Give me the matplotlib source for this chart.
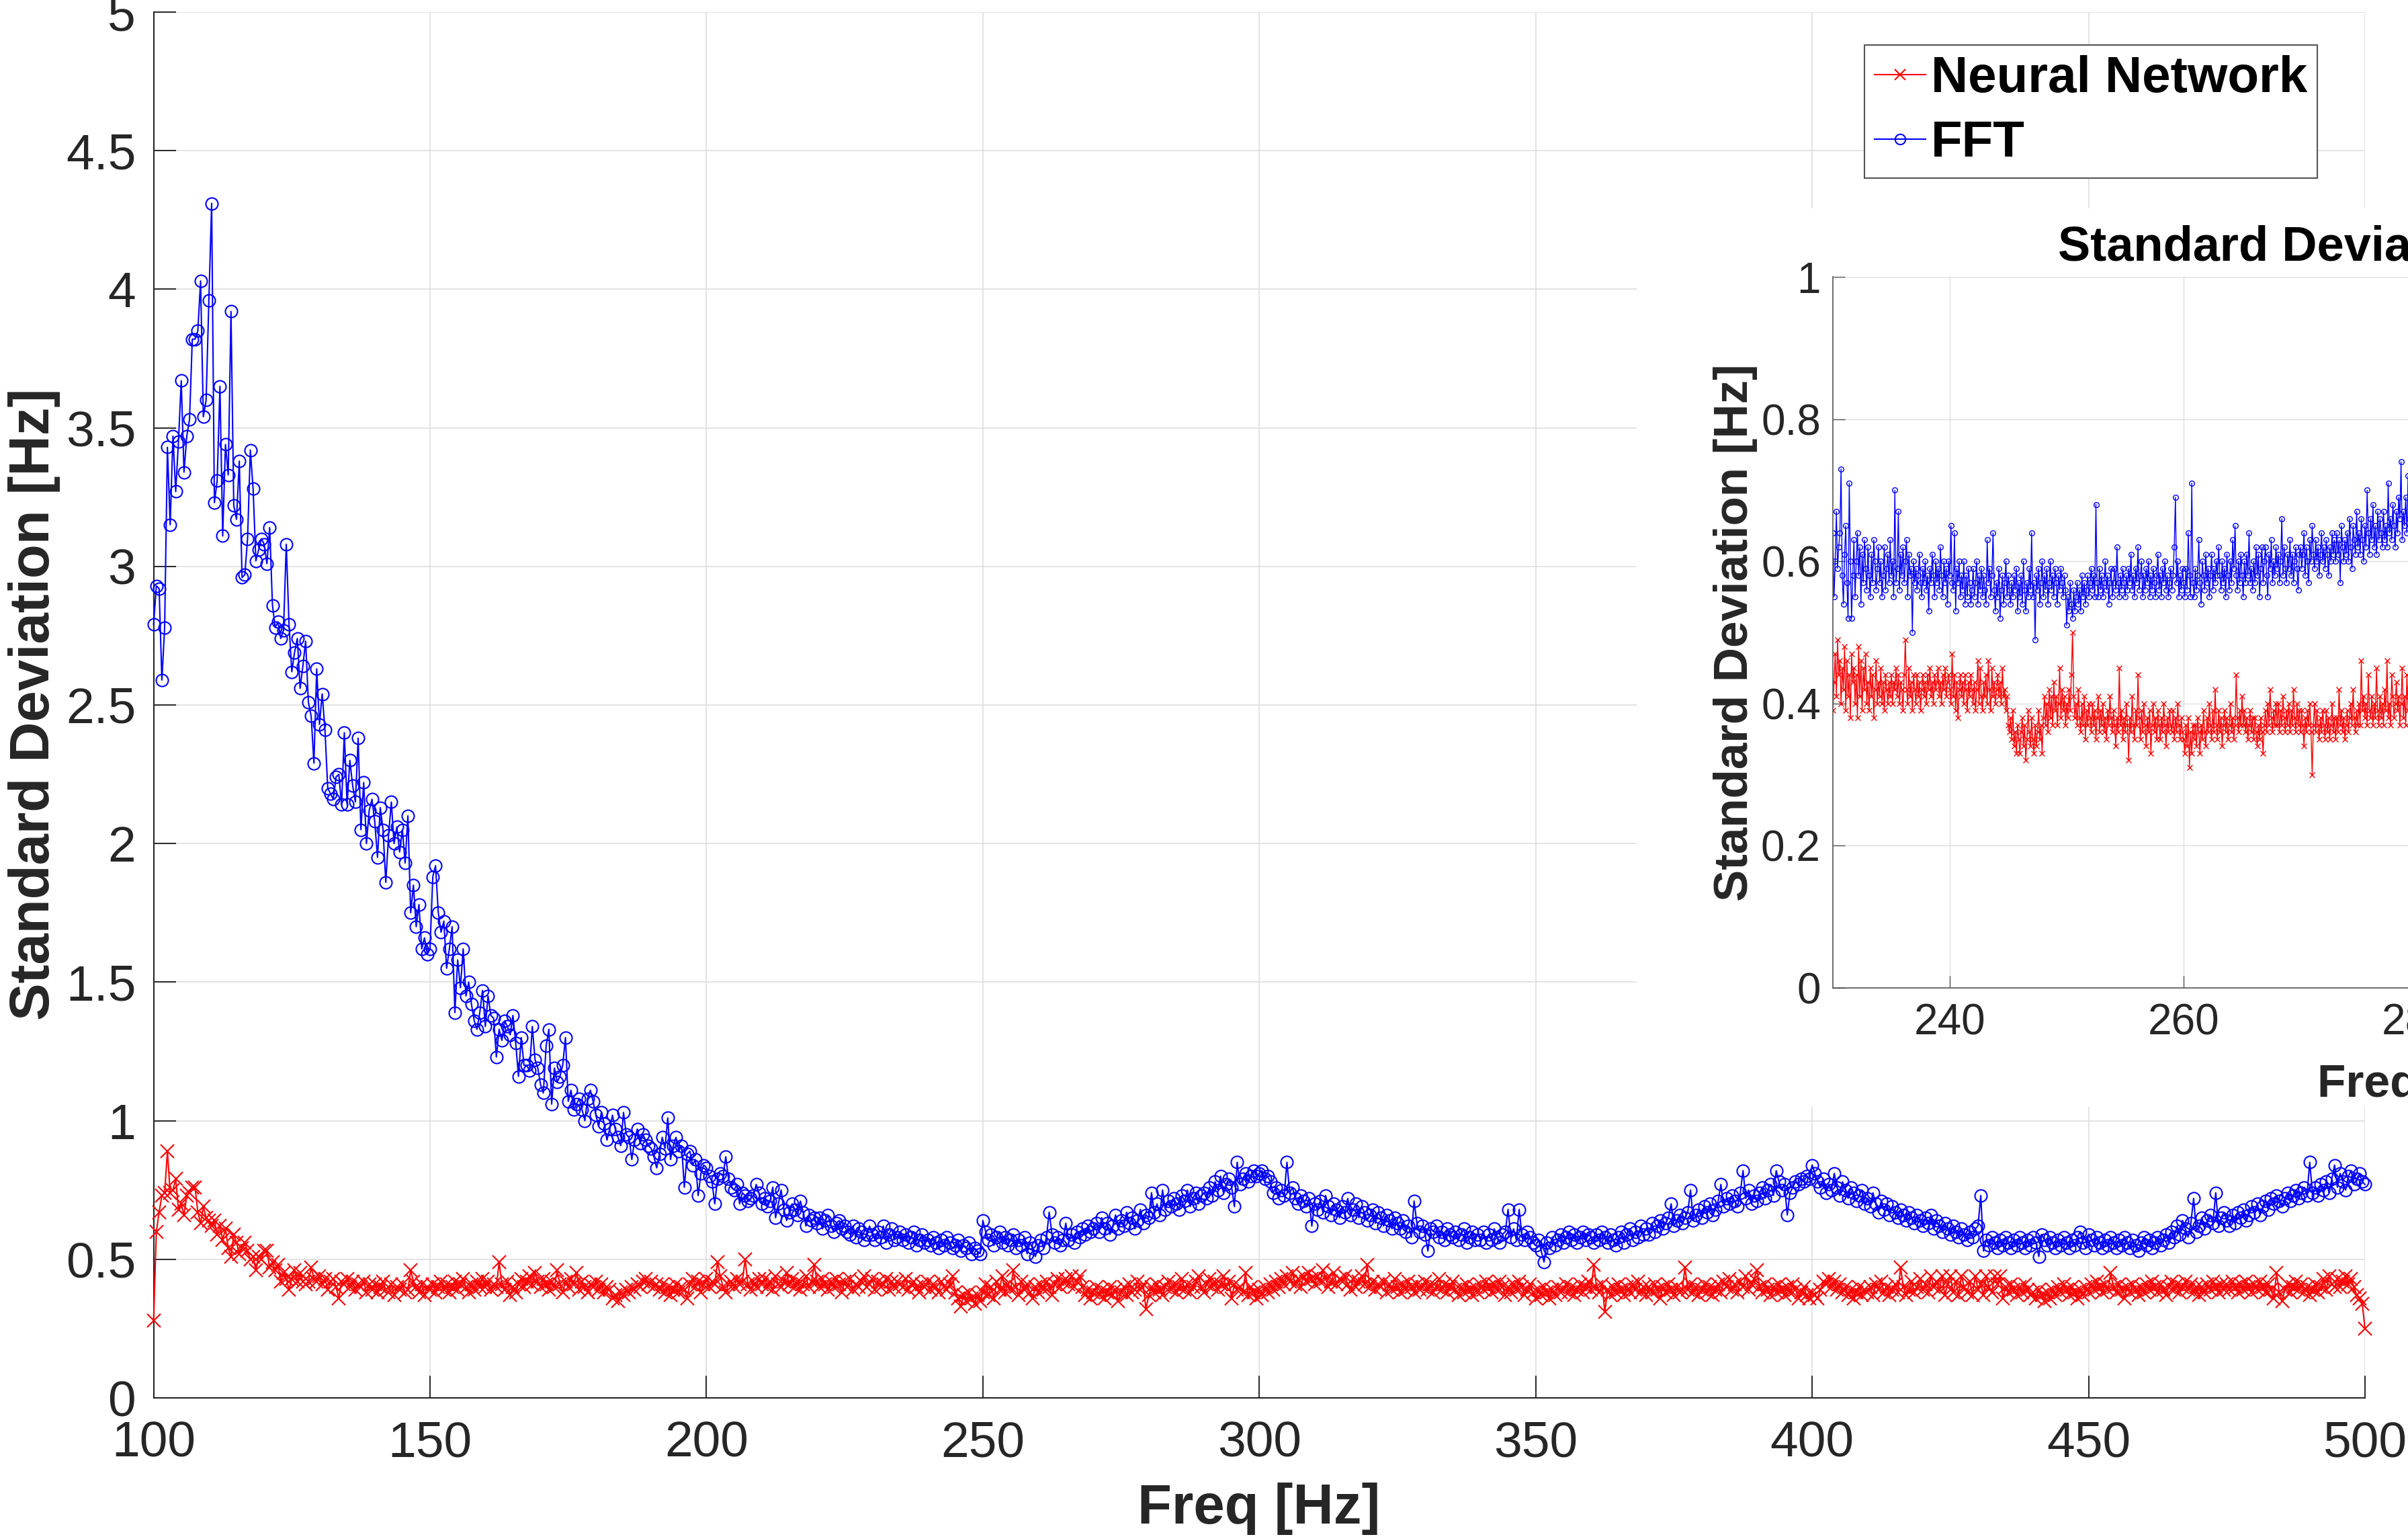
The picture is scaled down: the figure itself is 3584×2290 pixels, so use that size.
import numpy as np
import matplotlib
matplotlib.use("Agg")
import matplotlib.pyplot as plt
from matplotlib.patches import Rectangle
from matplotlib.ticker import FormatStrFormatter, FixedLocator

FONT = "Liberation Sans"
plt.rcParams['font.family'] = [FONT, 'DejaVu Sans']

# ---------------- data ----------------
main_freq_start = 100.0
main_freq_step = 0.5

fft_std = [
    2.79, 2.93, 2.92, 2.59, 2.78, 3.43, 3.15, 3.47, 3.27, 3.45,
    3.67, 3.34, 3.47, 3.53, 3.82, 3.82, 3.85, 4.03, 3.54, 3.60,
    3.96, 4.31, 3.23, 3.31, 3.65, 3.11, 3.44, 3.33, 3.92, 3.22,
    3.17, 3.38, 2.96, 2.97, 3.10, 3.42, 3.28, 3.02, 3.06, 3.10,
    3.08, 3.01, 3.14, 2.86, 2.78, 2.80, 2.74, 2.77, 3.08, 2.79,
    2.62, 2.69, 2.74, 2.56, 2.64, 2.73, 2.51, 2.46, 2.29, 2.63,
    2.43, 2.54, 2.41, 2.20, 2.18, 2.16, 2.24, 2.25, 2.14, 2.40,
    2.14, 2.30, 2.21, 2.15, 2.38, 2.05, 2.22, 2.00, 2.12, 2.16,
    2.08, 1.95, 2.13, 2.05, 1.86, 2.03, 2.15, 2.00, 2.06, 1.97,
    2.05, 1.93, 2.10, 1.75, 1.85, 1.70, 1.78, 1.62, 1.66, 1.60,
    1.62, 1.88, 1.92, 1.75, 1.68, 1.72, 1.55, 1.62, 1.70, 1.39,
    1.58, 1.48, 1.62, 1.45, 1.50, 1.42, 1.36, 1.33, 1.39, 1.47,
    1.34, 1.45, 1.38, 1.37, 1.23, 1.33, 1.29, 1.36, 1.34, 1.31,
    1.38, 1.28, 1.16, 1.30, 1.20, 1.20, 1.18, 1.34, 1.22, 1.19,
    1.13, 1.10, 1.27, 1.33, 1.06, 1.19, 1.14, 1.16, 1.20, 1.30,
    1.07, 1.11, 1.04, 1.06, 1.08, 1.04, 1.00, 1.08, 1.11, 1.07,
    1.02, 0.98, 1.03, 0.99, 0.93, 0.97, 1.02, 0.97, 0.94, 0.91,
    1.03, 0.95, 0.94, 0.86, 0.93, 0.97, 0.92, 0.95, 0.93, 0.91,
    0.90, 0.87, 0.83, 0.88, 0.94, 0.90, 1.01, 0.86, 0.91, 0.94,
    0.89, 0.91, 0.76, 0.88, 0.89, 0.84, 0.86, 0.73, 0.81, 0.84,
    0.83, 0.80, 0.78, 0.70, 0.79, 0.81, 0.80, 0.87, 0.79, 0.76,
    0.75, 0.77, 0.70, 0.74, 0.73, 0.71, 0.72, 0.73, 0.77, 0.74,
    0.70, 0.72, 0.69, 0.71, 0.76, 0.65, 0.70, 0.75, 0.68, 0.64,
    0.67, 0.70, 0.68, 0.66, 0.71, 0.67, 0.62, 0.66, 0.64, 0.65,
    0.63, 0.65, 0.61, 0.64, 0.66, 0.62, 0.60, 0.63, 0.64, 0.61,
    0.62, 0.60, 0.59, 0.62, 0.58, 0.61, 0.60, 0.57, 0.59, 0.62,
    0.59, 0.57, 0.60, 0.58, 0.62, 0.56, 0.59, 0.61, 0.57, 0.58,
    0.60, 0.57, 0.59, 0.56, 0.58, 0.60, 0.55, 0.57, 0.59, 0.56,
    0.57, 0.55, 0.58, 0.56, 0.54, 0.57, 0.55, 0.58, 0.56, 0.54,
    0.55, 0.57, 0.53, 0.55, 0.54, 0.56, 0.52, 0.54, 0.53, 0.52,
    0.64, 0.60, 0.57, 0.59, 0.55, 0.58, 0.60, 0.56, 0.58, 0.55,
    0.57, 0.59, 0.54, 0.57, 0.55, 0.58, 0.52, 0.56, 0.54, 0.51,
    0.55, 0.57, 0.54, 0.58, 0.67, 0.59, 0.56, 0.58, 0.55, 0.57,
    0.63, 0.57, 0.59, 0.56, 0.60, 0.58, 0.61, 0.59, 0.62, 0.60,
    0.61, 0.63, 0.60, 0.65, 0.61, 0.63, 0.59, 0.62, 0.66, 0.61,
    0.64, 0.62, 0.67, 0.63, 0.65, 0.61, 0.64, 0.68, 0.63, 0.66,
    0.65, 0.74, 0.67, 0.70, 0.66, 0.75, 0.68, 0.71, 0.69, 0.72,
    0.70, 0.68, 0.73, 0.71, 0.75, 0.69, 0.72, 0.74, 0.70, 0.73,
    0.74, 0.72, 0.76, 0.73, 0.78, 0.75, 0.80, 0.74, 0.77, 0.79,
    0.76, 0.69, 0.85, 0.77, 0.79, 0.81, 0.78, 0.80, 0.82, 0.80,
    0.81, 0.82, 0.79, 0.80, 0.78, 0.74, 0.76, 0.72, 0.75, 0.73,
    0.85, 0.74, 0.76, 0.72, 0.70, 0.73, 0.71, 0.69, 0.72, 0.62,
    0.70, 0.68, 0.71, 0.67, 0.73, 0.69, 0.66, 0.70, 0.68, 0.65,
    0.69, 0.67, 0.72, 0.66, 0.68, 0.70, 0.65, 0.69, 0.67, 0.64,
    0.66, 0.68, 0.63, 0.67, 0.65, 0.62, 0.66, 0.64, 0.61, 0.65,
    0.63, 0.61, 0.64, 0.60, 0.62, 0.58, 0.71, 0.63, 0.60, 0.62,
    0.59, 0.53, 0.61, 0.60, 0.62, 0.58, 0.60, 0.57, 0.61, 0.59,
    0.58, 0.60, 0.57, 0.59, 0.61, 0.56, 0.58, 0.60, 0.57, 0.59,
    0.57, 0.60, 0.56, 0.59, 0.57, 0.61, 0.58, 0.56, 0.59, 0.60,
    0.68, 0.58, 0.61, 0.57, 0.68, 0.59, 0.57, 0.60, 0.58, 0.56,
    0.55, 0.57, 0.53, 0.49, 0.56, 0.54, 0.58, 0.55, 0.57, 0.59,
    0.56, 0.58, 0.60, 0.57, 0.59, 0.56, 0.58, 0.60, 0.57, 0.59,
    0.58, 0.56, 0.59, 0.57, 0.60, 0.58, 0.56, 0.59, 0.57, 0.55,
    0.58, 0.60, 0.56, 0.59, 0.61, 0.57, 0.60, 0.58, 0.62, 0.59,
    0.61, 0.59, 0.63, 0.60, 0.62, 0.64, 0.61, 0.63, 0.65, 0.70,
    0.62, 0.64, 0.66, 0.63, 0.65, 0.67, 0.75, 0.64, 0.66, 0.68,
    0.65, 0.69, 0.67, 0.70, 0.66, 0.68, 0.71, 0.77, 0.69, 0.72,
    0.70, 0.73, 0.71, 0.69, 0.74, 0.82, 0.72, 0.75, 0.70, 0.73,
    0.71, 0.74, 0.76, 0.72, 0.75, 0.77, 0.73, 0.82, 0.78, 0.75,
    0.77, 0.66, 0.74, 0.76, 0.78, 0.77, 0.79, 0.78, 0.80, 0.79,
    0.84, 0.81, 0.78, 0.76, 0.79, 0.74, 0.77, 0.75, 0.81, 0.76,
    0.73, 0.78, 0.75, 0.72, 0.76, 0.74, 0.71, 0.73, 0.75, 0.70,
    0.72, 0.69, 0.74, 0.70, 0.67, 0.71, 0.68, 0.70, 0.66, 0.69,
    0.67, 0.65, 0.68, 0.66, 0.64, 0.67, 0.65, 0.63, 0.66, 0.64,
    0.62, 0.65, 0.63, 0.66, 0.61, 0.64, 0.62, 0.60, 0.63, 0.61,
    0.59, 0.62, 0.60, 0.58, 0.61, 0.59, 0.57, 0.60, 0.58, 0.61,
    0.62, 0.73, 0.53, 0.57, 0.55, 0.58, 0.56, 0.54, 0.57, 0.55,
    0.58, 0.56, 0.54, 0.57, 0.55, 0.58, 0.56, 0.54, 0.57, 0.55,
    0.58, 0.56, 0.51, 0.59, 0.57, 0.55, 0.58, 0.56, 0.54, 0.57,
    0.55, 0.58, 0.56, 0.54, 0.57, 0.55, 0.58, 0.60, 0.56, 0.54,
    0.59, 0.57, 0.55, 0.58, 0.56, 0.54, 0.57, 0.55, 0.58, 0.56,
    0.54, 0.57, 0.55, 0.58, 0.56, 0.54, 0.57, 0.55, 0.53, 0.56,
    0.58, 0.55, 0.57, 0.54, 0.56, 0.58, 0.55, 0.57, 0.59, 0.56,
    0.60, 0.58, 0.62, 0.59, 0.64, 0.61, 0.58, 0.63, 0.72, 0.60,
    0.62, 0.65, 0.61, 0.64, 0.66, 0.63, 0.74, 0.62, 0.65, 0.67,
    0.64, 0.62, 0.66, 0.63, 0.67, 0.65, 0.68, 0.64, 0.66, 0.69,
    0.67, 0.70, 0.66, 0.69, 0.71, 0.68, 0.72, 0.70, 0.73, 0.71,
    0.69, 0.72, 0.74, 0.71, 0.73, 0.75, 0.72, 0.74, 0.76, 0.73,
    0.85, 0.74, 0.76, 0.73, 0.77, 0.75, 0.78, 0.74, 0.79, 0.84,
    0.76, 0.81, 0.78, 0.75, 0.80, 0.82, 0.77, 0.79, 0.81, 0.78,
    0.77,
]

nn_std = [
    0.28, 0.60, 0.67, 0.73, 0.74, 0.89, 0.74, 0.75, 0.79, 0.68,
    0.70, 0.66, 0.73, 0.74, 0.76, 0.76, 0.67, 0.63, 0.69, 0.65,
    0.64, 0.62, 0.64, 0.59, 0.62, 0.57, 0.61, 0.54, 0.51, 0.59,
    0.56, 0.52, 0.54, 0.56, 0.53, 0.50, 0.51, 0.46, 0.51, 0.50,
    0.53, 0.53, 0.47, 0.49, 0.46, 0.48, 0.42, 0.45, 0.43, 0.39,
    0.43, 0.46, 0.42, 0.45, 0.42, 0.41, 0.42, 0.47, 0.43, 0.42,
    0.44, 0.41, 0.43, 0.39, 0.42, 0.43, 0.40, 0.36, 0.42, 0.41,
    0.43, 0.40, 0.42, 0.39, 0.41, 0.40, 0.42, 0.38, 0.41, 0.39,
    0.41, 0.38, 0.40, 0.42, 0.39, 0.38, 0.41, 0.37, 0.40, 0.39,
    0.41, 0.38, 0.39, 0.46, 0.42, 0.40, 0.38, 0.41, 0.37, 0.40,
    0.39, 0.41, 0.38, 0.40, 0.42, 0.39, 0.41, 0.38, 0.40, 0.42,
    0.39, 0.41, 0.43, 0.40, 0.38, 0.41, 0.39, 0.42, 0.40, 0.43,
    0.40, 0.42, 0.39, 0.41, 0.40, 0.49, 0.41, 0.39, 0.42, 0.37,
    0.40, 0.38, 0.41, 0.43, 0.40, 0.42, 0.44, 0.41, 0.45, 0.42,
    0.40, 0.43, 0.41, 0.39, 0.42, 0.40, 0.46, 0.41, 0.38, 0.42,
    0.40, 0.43, 0.41, 0.45, 0.39, 0.42, 0.40, 0.38, 0.41, 0.40,
    0.42, 0.39, 0.41, 0.38, 0.40, 0.39, 0.36, 0.37, 0.35, 0.38,
    0.37, 0.39, 0.38, 0.40, 0.39, 0.41, 0.40, 0.42, 0.43, 0.41,
    0.42, 0.40, 0.41, 0.39, 0.41, 0.38, 0.40, 0.37, 0.39, 0.41,
    0.38, 0.40, 0.39, 0.36, 0.41, 0.43, 0.40, 0.42, 0.38, 0.41,
    0.43, 0.40, 0.42, 0.41, 0.49, 0.44, 0.40, 0.38, 0.41, 0.42,
    0.40, 0.43, 0.41, 0.42, 0.50, 0.41, 0.39, 0.42, 0.40, 0.43,
    0.41, 0.43, 0.40, 0.42, 0.39, 0.44, 0.41, 0.40, 0.42, 0.45,
    0.41, 0.43, 0.40, 0.42, 0.39, 0.41, 0.44, 0.40, 0.42, 0.48,
    0.42, 0.40, 0.43, 0.41, 0.39, 0.42, 0.40, 0.43, 0.41, 0.38,
    0.42, 0.40, 0.43, 0.39, 0.41, 0.40, 0.42, 0.44, 0.40, 0.41,
    0.43, 0.39, 0.42, 0.40, 0.41, 0.43, 0.39, 0.42, 0.40, 0.42,
    0.41, 0.40, 0.43, 0.39, 0.41, 0.42, 0.40, 0.38, 0.41, 0.40,
    0.42, 0.39, 0.41, 0.40, 0.38, 0.42, 0.40, 0.39, 0.41, 0.44,
    0.38, 0.36, 0.33, 0.37, 0.35, 0.38, 0.36, 0.34, 0.37, 0.35,
    0.38, 0.41, 0.37, 0.40, 0.36, 0.42, 0.39, 0.44, 0.38, 0.41,
    0.39, 0.46, 0.40, 0.37, 0.42, 0.39, 0.41, 0.38, 0.36, 0.40,
    0.38, 0.41, 0.39, 0.42, 0.40, 0.37, 0.41, 0.43, 0.40, 0.42,
    0.43, 0.41, 0.44, 0.40, 0.42, 0.44, 0.40, 0.37, 0.39, 0.36,
    0.38, 0.40, 0.37, 0.39, 0.36, 0.38, 0.40, 0.37, 0.39, 0.35,
    0.38, 0.40, 0.37, 0.41, 0.38, 0.39, 0.42, 0.39, 0.41, 0.32,
    0.37, 0.40, 0.38, 0.41, 0.39, 0.37, 0.40, 0.42, 0.39, 0.41,
    0.38, 0.40, 0.43, 0.39, 0.41, 0.38, 0.40, 0.42, 0.44, 0.40,
    0.38, 0.41, 0.43, 0.40, 0.42, 0.39, 0.41, 0.44, 0.40, 0.42,
    0.36, 0.41, 0.39, 0.40, 0.38, 0.45, 0.37, 0.40, 0.38, 0.36,
    0.39, 0.37, 0.40, 0.38, 0.41, 0.39, 0.42, 0.40, 0.43, 0.41,
    0.44, 0.42, 0.45, 0.41, 0.43, 0.40, 0.44, 0.42, 0.45, 0.43,
    0.41, 0.44, 0.42, 0.46, 0.43, 0.40, 0.42, 0.45, 0.41, 0.43,
    0.42, 0.44, 0.41, 0.39, 0.43, 0.40, 0.42, 0.44, 0.41, 0.48,
    0.40, 0.42, 0.39, 0.41, 0.40, 0.42, 0.38, 0.41, 0.39, 0.43,
    0.40, 0.38, 0.41, 0.39, 0.42, 0.40, 0.38, 0.41, 0.39, 0.40,
    0.42, 0.39, 0.41, 0.38, 0.40, 0.43, 0.39, 0.41, 0.38, 0.40,
    0.42, 0.39, 0.37, 0.40, 0.38, 0.41, 0.39, 0.37, 0.40, 0.38,
    0.41, 0.39, 0.42, 0.40, 0.38, 0.41, 0.39, 0.42, 0.40, 0.37,
    0.40, 0.38, 0.41, 0.39, 0.42, 0.40, 0.37, 0.39, 0.41, 0.38,
    0.36, 0.39, 0.37, 0.40, 0.38, 0.36, 0.39, 0.37, 0.40, 0.38,
    0.39, 0.41, 0.38, 0.40, 0.37, 0.39, 0.41, 0.38, 0.40, 0.42,
    0.39, 0.48, 0.40, 0.38, 0.41, 0.31, 0.39, 0.37, 0.40, 0.38,
    0.41, 0.39, 0.37, 0.40, 0.38, 0.41, 0.39, 0.42, 0.38, 0.40,
    0.37, 0.40, 0.38, 0.41, 0.39, 0.36, 0.40, 0.38, 0.41, 0.39,
    0.37, 0.40, 0.38, 0.39, 0.47, 0.39, 0.41, 0.38, 0.40, 0.37,
    0.39, 0.41, 0.38, 0.40, 0.37, 0.39, 0.41, 0.38, 0.42, 0.40,
    0.43, 0.39, 0.41, 0.38, 0.42, 0.40, 0.44, 0.39, 0.41, 0.43,
    0.46, 0.40, 0.38, 0.41, 0.39, 0.37, 0.40, 0.38, 0.41, 0.39,
    0.37, 0.40, 0.38, 0.41, 0.39, 0.36, 0.38, 0.40, 0.37, 0.36,
    0.38, 0.37, 0.36, 0.39, 0.42, 0.41, 0.43, 0.40, 0.42, 0.39,
    0.41, 0.38, 0.40, 0.37, 0.39, 0.36, 0.38, 0.40, 0.37, 0.39,
    0.38, 0.40, 0.37, 0.41, 0.39, 0.42, 0.38, 0.40, 0.37, 0.39,
    0.41, 0.38, 0.47, 0.40, 0.37, 0.39, 0.42, 0.38, 0.40, 0.43,
    0.39, 0.41, 0.38, 0.44, 0.40, 0.42, 0.39, 0.44, 0.37, 0.41,
    0.44, 0.38, 0.42, 0.37, 0.44, 0.40, 0.38, 0.42, 0.37, 0.44,
    0.39, 0.41, 0.37, 0.44, 0.40, 0.38, 0.44, 0.41, 0.44, 0.36,
    0.40, 0.38, 0.41, 0.39, 0.37, 0.40, 0.38, 0.41, 0.39, 0.37,
    0.38, 0.36, 0.39, 0.37, 0.35, 0.38, 0.36, 0.39, 0.37, 0.40,
    0.38, 0.41, 0.39, 0.37, 0.40, 0.38, 0.36, 0.39, 0.37, 0.40,
    0.38, 0.41, 0.39, 0.42, 0.40, 0.38, 0.41, 0.39, 0.45, 0.40,
    0.38, 0.41, 0.39, 0.36, 0.40, 0.38, 0.41, 0.39, 0.37, 0.40,
    0.38, 0.41, 0.39, 0.42, 0.40, 0.38, 0.41, 0.39, 0.37, 0.40,
    0.42, 0.39, 0.41, 0.38, 0.40, 0.42, 0.39, 0.41, 0.38, 0.40,
    0.37, 0.40, 0.38, 0.41, 0.39, 0.42, 0.40, 0.38, 0.41, 0.39,
    0.41, 0.39, 0.42, 0.40, 0.38, 0.41, 0.39, 0.42, 0.40, 0.38,
    0.41, 0.39, 0.42, 0.40, 0.38, 0.41, 0.39, 0.36, 0.45, 0.38,
    0.35, 0.39, 0.41, 0.38, 0.40, 0.42, 0.39, 0.41, 0.38, 0.40,
    0.37, 0.39, 0.41, 0.38, 0.40, 0.43, 0.39, 0.44, 0.41, 0.40,
    0.43, 0.40, 0.42, 0.44, 0.41, 0.43, 0.40, 0.37, 0.36, 0.34,
    0.25,
]

zoom_freq_start = 230.0
zoom_freq_step = 0.1

fft_std_zoom = [
    0.64, 0.55, 0.60, 0.67, 0.59, 0.62, 0.64, 0.73, 0.58, 0.54,
    0.61, 0.65, 0.57, 0.52, 0.71, 0.60, 0.52, 0.58, 0.63, 0.55,
    0.60, 0.64, 0.58, 0.62, 0.54, 0.61, 0.57, 0.63, 0.59, 0.56,
    0.62, 0.58, 0.55, 0.61, 0.57, 0.63, 0.60, 0.56, 0.59, 0.62,
    0.57, 0.60, 0.55, 0.58, 0.62, 0.56, 0.59, 0.61, 0.57, 0.63,
    0.58, 0.60, 0.55, 0.70, 0.57, 0.59, 0.67, 0.56, 0.61, 0.58,
    0.62, 0.57, 0.60, 0.63, 0.55, 0.61, 0.58, 0.59, 0.50, 0.60,
    0.57, 0.59, 0.56, 0.58, 0.61, 0.57, 0.55, 0.59, 0.57, 0.60,
    0.56, 0.58, 0.53, 0.59, 0.57, 0.61, 0.58, 0.55, 0.60, 0.57,
    0.59, 0.56, 0.62, 0.58, 0.55, 0.60, 0.57, 0.59, 0.54, 0.60,
    0.58, 0.65, 0.57, 0.56, 0.64, 0.53, 0.59, 0.57, 0.60, 0.55,
    0.58, 0.56, 0.60, 0.54, 0.58, 0.55, 0.59, 0.57, 0.54, 0.56,
    0.59, 0.55, 0.57, 0.60, 0.54, 0.58, 0.56, 0.59, 0.55, 0.58,
    0.56, 0.54, 0.63, 0.57, 0.59, 0.55, 0.58, 0.64, 0.56, 0.53,
    0.57, 0.55, 0.59, 0.52, 0.56, 0.58, 0.54, 0.57, 0.60, 0.55,
    0.58, 0.56, 0.54, 0.57, 0.55, 0.58, 0.56, 0.59, 0.53, 0.57,
    0.55, 0.58, 0.54, 0.60, 0.56, 0.53, 0.57, 0.55, 0.59, 0.56,
    0.64, 0.55, 0.57, 0.49, 0.58, 0.56, 0.59, 0.54, 0.57, 0.60,
    0.55, 0.58, 0.56, 0.59, 0.54, 0.57, 0.60, 0.56, 0.58, 0.55,
    0.59, 0.57, 0.54, 0.58, 0.56, 0.59, 0.57, 0.55, 0.58, 0.56,
    0.51, 0.55, 0.53, 0.57, 0.54, 0.52, 0.56, 0.53, 0.55, 0.57,
    0.54, 0.56, 0.53, 0.58, 0.55, 0.57, 0.54, 0.56, 0.58, 0.55,
    0.57, 0.59, 0.56, 0.58, 0.55, 0.68, 0.57, 0.55, 0.59, 0.56,
    0.58, 0.55, 0.57, 0.60, 0.56, 0.58, 0.54, 0.57, 0.59, 0.55,
    0.57, 0.59, 0.56, 0.62, 0.57, 0.55, 0.58, 0.56, 0.59, 0.57,
    0.55, 0.58, 0.56, 0.59, 0.57, 0.61, 0.56, 0.58, 0.55, 0.59,
    0.57, 0.62, 0.56, 0.58, 0.60, 0.55, 0.58, 0.56, 0.59, 0.57,
    0.60, 0.55, 0.58, 0.56, 0.59, 0.57, 0.55, 0.58, 0.61, 0.56,
    0.58, 0.55, 0.59, 0.57, 0.60, 0.56, 0.58, 0.55, 0.57, 0.59,
    0.56, 0.58, 0.62, 0.69, 0.57, 0.60, 0.55, 0.58, 0.56, 0.59,
    0.57, 0.55, 0.59, 0.56, 0.64, 0.58, 0.55, 0.71, 0.57, 0.55,
    0.59, 0.56, 0.58, 0.63, 0.57, 0.54, 0.60, 0.58, 0.56, 0.61,
    0.57, 0.59, 0.55, 0.58, 0.61, 0.56, 0.59, 0.57, 0.60, 0.58,
    0.62, 0.58, 0.56, 0.60, 0.57, 0.59, 0.55, 0.61, 0.58, 0.56,
    0.60, 0.57, 0.63, 0.59, 0.65, 0.58, 0.56, 0.60, 0.57, 0.61,
    0.58, 0.55, 0.60, 0.57, 0.61, 0.58, 0.64, 0.57, 0.59, 0.56,
    0.60, 0.57, 0.62, 0.58, 0.61, 0.55, 0.59, 0.62, 0.57, 0.60,
    0.62, 0.58, 0.55, 0.61, 0.59, 0.63, 0.57, 0.60, 0.58, 0.62,
    0.59, 0.61, 0.57, 0.60, 0.66, 0.58, 0.62, 0.59, 0.57, 0.61,
    0.59, 0.63, 0.58, 0.61, 0.57, 0.60, 0.62, 0.59, 0.56, 0.61,
    0.62, 0.59, 0.61, 0.64, 0.58, 0.62, 0.60, 0.57, 0.63, 0.60,
    0.65, 0.61, 0.59, 0.63, 0.60, 0.62, 0.58, 0.61, 0.64, 0.60,
    0.62, 0.59, 0.63, 0.61, 0.58, 0.62, 0.60, 0.64, 0.61, 0.63,
    0.60, 0.64, 0.61, 0.63, 0.57, 0.65, 0.62, 0.60, 0.63, 0.61,
    0.64, 0.60, 0.66, 0.62, 0.59, 0.65, 0.63, 0.61, 0.67, 0.62,
    0.64, 0.61, 0.66, 0.63, 0.60, 0.65, 0.62, 0.70, 0.64, 0.61,
    0.66, 0.63, 0.68, 0.62, 0.65, 0.61, 0.67, 0.63, 0.66, 0.64,
    0.62, 0.67, 0.63, 0.65, 0.62, 0.71, 0.64, 0.66, 0.63, 0.68,
    0.65, 0.62, 0.67, 0.64, 0.69, 0.66, 0.74, 0.63, 0.67, 0.65,
    0.69, 0.64, 0.72, 0.66, 0.62, 0.68, 0.65, 0.70, 0.64, 0.67,
    0.66,
]

nn_std_zoom = [
    0.39, 0.43, 0.47, 0.41, 0.49, 0.44, 0.46, 0.40, 0.45, 0.42,
    0.48, 0.39, 0.46, 0.41, 0.44, 0.38, 0.47, 0.43, 0.45, 0.40,
    0.44, 0.38, 0.48, 0.41, 0.46, 0.39, 0.45, 0.42, 0.47, 0.40,
    0.43, 0.39, 0.45, 0.41, 0.44, 0.38, 0.42, 0.46, 0.40, 0.43,
    0.41, 0.45, 0.40, 0.43, 0.39, 0.44, 0.42, 0.40, 0.43, 0.41,
    0.44, 0.40, 0.43, 0.42, 0.45, 0.41, 0.44, 0.40, 0.43, 0.42,
    0.39, 0.44, 0.49, 0.42, 0.40, 0.45, 0.41, 0.43, 0.39, 0.44,
    0.42, 0.40, 0.44, 0.41, 0.43, 0.39, 0.42, 0.44, 0.41, 0.43,
    0.40, 0.44, 0.42, 0.45, 0.41, 0.43, 0.40, 0.44, 0.42, 0.43,
    0.45, 0.41, 0.43, 0.40, 0.44, 0.42, 0.45, 0.41, 0.43, 0.44,
    0.42, 0.40, 0.47, 0.41, 0.44, 0.39, 0.43, 0.38, 0.42, 0.44,
    0.41, 0.43, 0.40, 0.44, 0.42, 0.39, 0.43, 0.41, 0.44, 0.42,
    0.40, 0.43, 0.39, 0.42, 0.46, 0.40, 0.45, 0.41, 0.39, 0.43,
    0.41, 0.44, 0.40, 0.46, 0.42, 0.39, 0.45, 0.41, 0.43, 0.40,
    0.42, 0.44, 0.41, 0.43, 0.40, 0.45, 0.41, 0.42, 0.39, 0.41,
    0.37, 0.36, 0.38, 0.35, 0.39, 0.34, 0.36, 0.33, 0.37, 0.35,
    0.33, 0.36, 0.38, 0.34, 0.37, 0.32, 0.35, 0.39, 0.36, 0.34,
    0.38, 0.35, 0.33, 0.37, 0.34, 0.36, 0.39, 0.35, 0.37, 0.33,
    0.38, 0.41, 0.37, 0.40, 0.36, 0.42, 0.38, 0.41, 0.37, 0.43,
    0.39, 0.41, 0.37, 0.40, 0.45, 0.38, 0.42, 0.39, 0.41, 0.37,
    0.40, 0.38, 0.42, 0.39, 0.44, 0.50, 0.41, 0.38, 0.40, 0.37,
    0.42, 0.38, 0.36, 0.40, 0.37, 0.41, 0.35, 0.39, 0.37, 0.40,
    0.38, 0.36, 0.40, 0.37, 0.39, 0.35, 0.38, 0.41, 0.36, 0.39,
    0.37, 0.40, 0.36, 0.38, 0.35, 0.39, 0.37, 0.41, 0.38, 0.36,
    0.39, 0.37, 0.34, 0.38, 0.36, 0.45, 0.37, 0.39, 0.35, 0.38,
    0.36, 0.40, 0.37, 0.32, 0.38, 0.36, 0.41, 0.37, 0.35, 0.39,
    0.37, 0.44, 0.38, 0.35, 0.39, 0.36, 0.40, 0.37, 0.34, 0.38,
    0.36, 0.39, 0.33, 0.37, 0.40, 0.36, 0.38, 0.35, 0.39, 0.37,
    0.35, 0.38, 0.36, 0.40, 0.37, 0.34, 0.38, 0.36, 0.39, 0.37,
    0.36, 0.39, 0.35, 0.38, 0.36, 0.40, 0.37, 0.35, 0.38, 0.36,
    0.35, 0.33, 0.37, 0.34, 0.38, 0.31, 0.36, 0.33, 0.37, 0.35,
    0.37, 0.34, 0.38, 0.36, 0.33, 0.37, 0.35, 0.39, 0.36, 0.34,
    0.38, 0.36, 0.40, 0.37, 0.35, 0.39, 0.36, 0.42, 0.37, 0.35,
    0.39, 0.36, 0.38, 0.34, 0.37, 0.39, 0.36, 0.38, 0.35, 0.37,
    0.40, 0.36, 0.38, 0.35, 0.37, 0.44, 0.38, 0.36, 0.39, 0.37,
    0.41, 0.37, 0.39, 0.36, 0.38, 0.35, 0.37, 0.39, 0.36, 0.38,
    0.35, 0.38, 0.36, 0.34, 0.37, 0.35, 0.38, 0.36, 0.33, 0.37,
    0.39, 0.36, 0.40, 0.37, 0.42, 0.38, 0.36, 0.39, 0.37, 0.40,
    0.37, 0.40, 0.36, 0.39, 0.37, 0.41, 0.38, 0.36, 0.39, 0.37,
    0.40, 0.36, 0.39, 0.37, 0.42, 0.38, 0.36, 0.40, 0.37, 0.39,
    0.36, 0.39, 0.37, 0.34, 0.38, 0.36, 0.39, 0.37, 0.40, 0.36,
    0.30, 0.37, 0.40, 0.36, 0.39, 0.37, 0.35, 0.38, 0.36, 0.39,
    0.37, 0.35, 0.39, 0.36, 0.38, 0.35, 0.37, 0.40, 0.36, 0.38,
    0.35, 0.38, 0.36, 0.42, 0.37, 0.39, 0.36, 0.38, 0.35, 0.37,
    0.39, 0.36, 0.38, 0.40, 0.37, 0.42, 0.38, 0.36, 0.39, 0.37,
    0.40, 0.37, 0.46, 0.39, 0.41, 0.38, 0.40, 0.37, 0.44, 0.39,
    0.38, 0.41, 0.37, 0.40, 0.38, 0.45, 0.39, 0.37, 0.41, 0.38,
    0.40, 0.37, 0.42, 0.39, 0.46, 0.38, 0.40, 0.37, 0.44, 0.41,
    0.38, 0.40, 0.43, 0.39, 0.41, 0.37, 0.40, 0.45, 0.38, 0.41,
    0.37, 0.44, 0.39, 0.42, 0.38, 0.46, 0.40, 0.37, 0.43, 0.39,
    0.41,
]

series_labels = ["Neural Network", "FFT"]
main_xticks = [100, 150, 200, 250, 300, 350, 400, 450, 500]
main_yticks = [0, 0.5, 1, 1.5, 2, 2.5, 3, 3.5, 4, 4.5, 5]
zoom_xticks = [240, 260, 280, 300, 320]
zoom_yticks = [0, 0.2, 0.4, 0.6, 0.8, 1]
axis_label_x = "Freq [Hz]"
axis_label_y = "Standard Deviation [Hz]"
zoom_title = "Standard Deviation"

# ---------------- layout ----------------
W, H = 3584, 2290
fig = plt.figure(figsize=(W / 100, H / 100), dpi=100)
fig.patch.set_facecolor("white")


def fx(px):
    return px / W


def fy(py):
    return 1 - py / H


DARK = "#262626"
GRID = "#dedede"

# main axes
ax = fig.add_axes([fx(228.6), fy(2080), (3520 - 228.6) / W, (2080 - 18) / H])
freq_main = main_freq_start + main_freq_step * np.arange(len(nn_std))
ax.plot(freq_main, nn_std, color=(1, 0, 0), lw=1.5, marker='x', ms=14,
        mew=1.5, label=series_labels[0], clip_on=False, zorder=3)
ax.plot(freq_main, fft_std, color=(0, 0, 1), lw=1.5, marker='o', ms=13,
        mew=1.5, mfc='none', label=series_labels[1], clip_on=False, zorder=3)
ax.set_xlim(100, 500)
ax.set_ylim(0, 5)
ax.xaxis.set_major_locator(FixedLocator(main_xticks))
ax.yaxis.set_major_locator(FixedLocator(main_yticks))
ax.yaxis.set_major_formatter(FormatStrFormatter('%g'))
ax.grid(True, color=GRID, lw=1.2)
ax.set_axisbelow(True)
for s in ['top', 'right']:
    ax.spines[s].set_visible(False)
for s in ['left', 'bottom']:
    ax.spines[s].set_color(DARK)
    ax.spines[s].set_linewidth(1.5)
ax.tick_params(axis='both', direction='in', length=24, width=1.4, color=DARK,
               labelcolor=DARK, labelsize=54)
ax.tick_params(axis='y', pad=19)
ax.tick_params(axis='x', pad=24)

fig.text(fx(51), fy(1048), axis_label_y, rotation=90, ha='center', va='center',
         fontsize=60, fontweight='bold', color=DARK)
fig.text(fx(1874), fy(2245), axis_label_x, ha='center', va='center',
         fontsize=60, fontweight='bold', color=DARK)

leg = ax.legend(loc='upper left', bbox_to_anchor=(fx(2774.5), fy(67)),
                bbox_transform=fig.transFigure, prop={'weight': 'bold', 'size': 55},
                frameon=True, fancybox=False, edgecolor='#555555', framealpha=1,
                borderpad=0.2, handlelength=1.0, handletextpad=0.1,
                labelspacing=0.33, borderaxespad=0, numpoints=1, markerscale=0.85)
leg.get_frame().set_linewidth(1.5)

# white backdrop behind the inset
fig.add_artist(Rectangle((fx(2436), fy(1647)), 1 - fx(2436), fy(310) - fy(1647),
                         transform=fig.transFigure, facecolor='white',
                         edgecolor='none', zorder=1))

# inset axes
axi = fig.add_axes([fx(2728), fy(1470), 1740 / W, (1470 - 412) / H], zorder=2)
freq_zoom = zoom_freq_start + zoom_freq_step * np.arange(len(nn_std_zoom))
axi.plot(freq_zoom, nn_std_zoom, color=(1, 0, 0), lw=1.0, marker='x', ms=5.5,
         mew=1.0)
axi.plot(freq_zoom, fft_std_zoom, color=(0, 0, 1), lw=1.0, marker='o', ms=5.5,
         mew=1.0, mfc='none')
axi.set_xlim(230, 330)
axi.set_ylim(0, 1)
axi.xaxis.set_major_locator(FixedLocator(zoom_xticks))
axi.yaxis.set_major_locator(FixedLocator(zoom_yticks))
axi.yaxis.set_major_formatter(FormatStrFormatter('%g'))
axi.grid(True, color=GRID, lw=1.0)
axi.set_axisbelow(True)
for s in ['top', 'right']:
    axi.spines[s].set_visible(False)
for s in ['left', 'bottom']:
    axi.spines[s].set_color('#555555')
    axi.spines[s].set_linewidth(1.2)
axi.tick_params(axis='both', direction='in', length=13, width=1.0, color='#555555',
                labelcolor=DARK, labelsize=46)
axi.tick_params(axis='y', pad=13)
axi.tick_params(axis='x', pad=16)

fig.text(fx(2583), fy(941), axis_label_y, rotation=90, ha='center', va='center',
         fontsize=51, fontweight='bold', color=DARK)
fig.text(fx(3449), fy(1632), axis_label_x, ha='left', va='baseline',
         fontsize=50, fontweight='bold', color=DARK)
fig.text(fx(3063), fy(388), zoom_title, ha='left', va='baseline',
         fontsize=52, fontweight='bold', color='black')

fig.savefig("out.png", dpi=100, facecolor='white')
